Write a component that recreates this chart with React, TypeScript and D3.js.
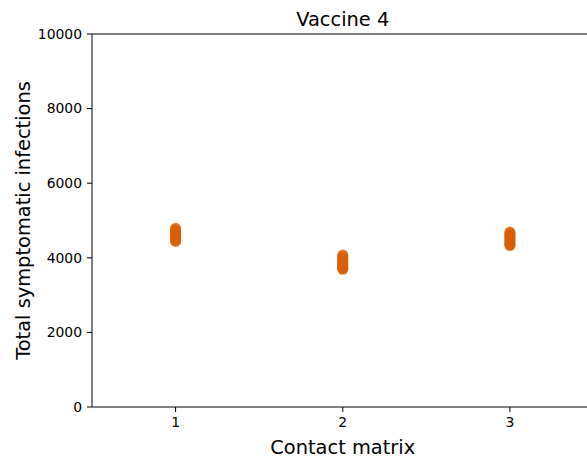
import React from "react";
import * as d3 from "d3";

const title = "Vaccine 4";
const xLabel = "Contact matrix";
const yLabel = "Total symptomatic infections";
const xTicks = [1, 2, 3];
const yTicks = [0, 2000, 4000, 6000, 8000, 10000];
const matrix1 = [4790, 4750, 4710, 4680, 4650, 4620, 4580, 4540, 4500, 4470, 4440];
const matrix2 = [4075, 4030, 3990, 3950, 3910, 3870, 3830, 3790, 3750, 3720, 3690];
const matrix3 = [4690, 4650, 4620, 4590, 4550, 4510, 4470, 4430, 4390, 4360, 4330];
const series = [
  { x: 1, values: matrix1 },
  { x: 2, values: matrix2 },
  { x: 3, values: matrix3 },
];

export default function App() {
  const W = 587, H = 461;
  const left = 92, right = 593.5, top = 34, bottom = 407;
  const x = d3.scaleLinear().domain([0.5, 3.5]).range([left, right]);
  const y = d3.scaleLinear().domain([0, 10000]).range([bottom, top]);
  const font = "DejaVu Sans, sans-serif";
  return (
    <svg width={W} height={H} style={{ position: "absolute", left: 0, top: 0 }} fontFamily={font}>
      <rect width={W} height={H} fill="white" />
      {series.map((s) =>
        s.values.map((v, i) => (
          <circle key={s.x + "-" + i} cx={x(s.x)} cy={y(v)} r={5.5} fill="#d95f02" fillOpacity={0.8} />
        ))
      )}
      <line x1={left} x2={left} y1={top} y2={bottom} stroke="black" strokeWidth={1} />
      <line x1={left} x2={right} y1={bottom} y2={bottom} stroke="black" strokeWidth={1} />
      <line x1={left} x2={right} y1={top} y2={top} stroke="black" strokeWidth={1} />
      <line x1={right} x2={right} y1={top} y2={bottom} stroke="black" strokeWidth={1} />
      {yTicks.map((t) => (
        <g key={t}>
          <line x1={left - 5} x2={left} y1={y(t)} y2={y(t)} stroke="black" />
          <text x={left - 10} y={y(t)} dy="0.35em" textAnchor="end" fontSize={13.9}>{t}</text>
        </g>
      ))}
      {xTicks.map((t) => (
        <g key={t}>
          <line x1={x(t)} x2={x(t)} y1={bottom} y2={bottom + 5} stroke="black" />
          <text x={x(t)} y={bottom + 20} textAnchor="middle" fontSize={13.9}>{t}</text>
        </g>
      ))}
      <text x={(left + right) / 2} y={bottom + 47} textAnchor="middle" fontSize={19.4}>{xLabel}</text>
      <text transform={`translate(29.5,${(top + bottom) / 2}) rotate(-90)`} textAnchor="middle" fontSize={19.4}>{yLabel}</text>
      <text x={(left + right) / 2} y={26} textAnchor="middle" fontSize={19.4}>{title}</text>
    </svg>
  );
}
